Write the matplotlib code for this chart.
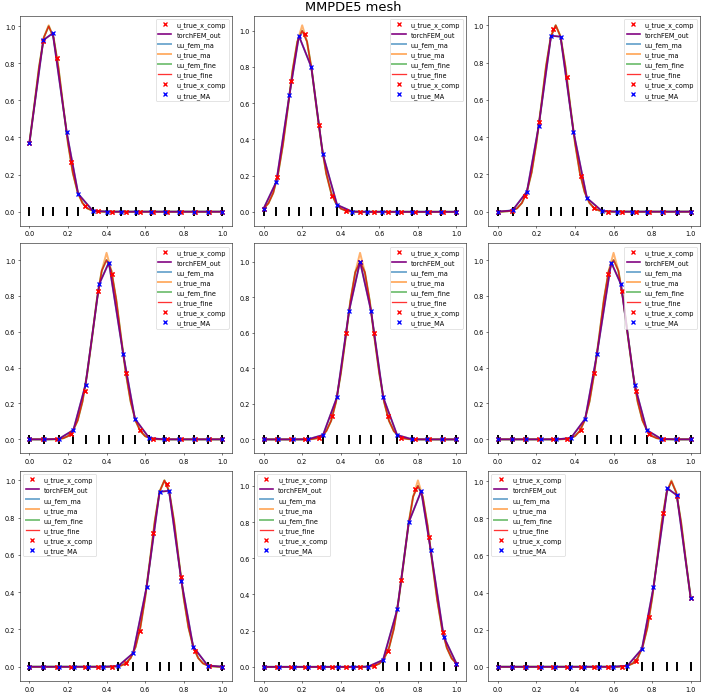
import matplotlib
matplotlib.use('Agg')
import matplotlib.pyplot as plt

# uniform computational grid (red crosses)
x_comp = [0.0, 0.0714, 0.1429, 0.2143, 0.2857, 0.3571, 0.4286, 0.5,
          0.5714, 0.6429, 0.7143, 0.7857, 0.8571, 0.9286, 1.0]
# fine grid for the reference solution, step 0.025
x_fine = [0.0, 0.025, 0.05, 0.075, 0.1, 0.125, 0.15, 0.175, 0.2, 0.225,
          0.25, 0.275, 0.3, 0.325, 0.35, 0.375, 0.4, 0.425, 0.45, 0.475,
          0.5, 0.525, 0.55, 0.575, 0.6, 0.625, 0.65, 0.675, 0.7, 0.725,
          0.75, 0.775, 0.8, 0.825, 0.85, 0.875, 0.9, 0.925, 0.95, 0.975, 1.0]

# MA meshes, one per subplot
mesh = [
    [0, 0.072, 0.121, 0.193, 0.253, 0.328, 0.403, 0.477, 0.552, 0.628, 0.702, 0.776, 0.852, 0.926, 1.0],
    [0, 0.066, 0.134, 0.183, 0.247, 0.307, 0.381, 0.459, 0.536, 0.614, 0.690, 0.769, 0.845, 0.922, 1.0],
    [0, 0.076, 0.151, 0.212, 0.276, 0.325, 0.392, 0.462, 0.540, 0.616, 0.694, 0.771, 0.849, 0.927, 1.0],
    [0, 0.076, 0.152, 0.228, 0.291, 0.362, 0.412, 0.486, 0.547, 0.621, 0.697, 0.774, 0.852, 0.926, 1.0],
    [0, 0.075, 0.153, 0.230, 0.308, 0.380, 0.443, 0.500, 0.557, 0.620, 0.692, 0.770, 0.847, 0.925, 1.0],
    [0, 0.074, 0.148, 0.226, 0.303, 0.379, 0.453, 0.514, 0.588, 0.638, 0.709, 0.772, 0.848, 0.924, 1.0],
    [0, 0.073, 0.151, 0.229, 0.306, 0.384, 0.460, 0.538, 0.608, 0.675, 0.724, 0.788, 0.849, 0.924, 1.0],
    [0, 0.078, 0.155, 0.231, 0.310, 0.386, 0.464, 0.541, 0.619, 0.693, 0.753, 0.817, 0.866, 0.934, 1.0],
    [0, 0.074, 0.148, 0.224, 0.298, 0.372, 0.448, 0.523, 0.597, 0.672, 0.747, 0.807, 0.879, 0.928, 1.0],
]

# u_true_MA / torchFEM_out / uu_fem_ma on the MA mesh
u_ma = [
    [0.37, 0.925, 0.962, 0.43, 0.096, 0.0055, 0, 0, 0, 0, 0, 0, 0, 0, 0],
    [0.018, 0.166, 0.647, 0.971, 0.80, 0.318, 0.038, 0.0012, 0, 0, 0, 0, 0, 0, 0],
    [0.0001, 0.0066, 0.108, 0.46, 0.944, 0.939, 0.43, 0.073, 0.0031, 0, 0, 0, 0, 0, 0],
    [0, 0, 0.0021, 0.052, 0.305, 0.866, 0.986, 0.477, 0.115, 0.0076, 0.0001, 0, 0, 0, 0],
    [0, 0, 0, 0.0007, 0.025, 0.237, 0.723, 1.0, 0.723, 0.237, 0.025, 0.0007, 0, 0, 0],
    [0, 0, 0, 0, 0.0001, 0.0076, 0.115, 0.477, 0.986, 0.866, 0.305, 0.052, 0.0021, 0, 0],
    [0, 0, 0, 0, 0, 0, 0.0031, 0.073, 0.43, 0.939, 0.944, 0.46, 0.108, 0.0066, 0.0001],
    [0, 0, 0, 0, 0, 0, 0, 0.0012, 0.038, 0.318, 0.80, 0.971, 0.647, 0.166, 0.018],
    [0, 0, 0, 0, 0, 0, 0, 0, 0, 0.0055, 0.096, 0.43, 0.962, 0.925, 0.37],
]

# u_true_x_comp on the uniform grid
u_comp = [
    [0.37, 0.92, 0.83, 0.27, 0.032, 0.0013, 0, 0, 0, 0, 0, 0, 0, 0, 0],
    [0.018, 0.19, 0.72, 0.98, 0.48, 0.085, 0.0054, 0.0001, 0, 0, 0, 0, 0, 0, 0],
    [0.0001, 0.0054, 0.085, 0.48, 0.98, 0.72, 0.19, 0.018, 0.0006, 0, 0, 0, 0, 0, 0],
    [0, 0, 0.0013, 0.032, 0.27, 0.83, 0.92, 0.37, 0.053, 0.0027, 0, 0, 0, 0, 0],
    [0, 0, 0, 0.0003, 0.010, 0.13, 0.60, 1.0, 0.60, 0.13, 0.010, 0.0003, 0, 0, 0],
    [0, 0, 0, 0, 0, 0.0027, 0.053, 0.37, 0.92, 0.83, 0.27, 0.032, 0.0013, 0, 0],
    [0, 0, 0, 0, 0, 0, 0.0006, 0.018, 0.19, 0.72, 0.98, 0.48, 0.085, 0.0054, 0.0001],
    [0, 0, 0, 0, 0, 0, 0, 0.0001, 0.0054, 0.085, 0.48, 0.98, 0.72, 0.19, 0.018],
    [0, 0, 0, 0, 0, 0, 0, 0, 0, 0.0013, 0.032, 0.27, 0.83, 0.92, 0.37],
]

# u_true_fine / uu_fem_fine on the fine grid
u_fine = [
    [0.37, 0.57, 0.78, 0.94, 1.0, 0.94, 0.78, 0.57, 0.37, 0.21, 0.105, 0.047, 0.018, 0.0063, 0.002, 0.0005] + [0] * 25,
    [0.018, 0.047, 0.105, 0.21, 0.37, 0.57, 0.78, 0.94, 1.0, 0.94, 0.78, 0.57, 0.37, 0.21, 0.105, 0.047,
     0.018, 0.0063, 0.002, 0.0005] + [0] * 21,
    [0, 0.0005, 0.002, 0.0063, 0.018, 0.047, 0.105, 0.21, 0.37, 0.57, 0.78, 0.94, 1.0, 0.94, 0.78, 0.57,
     0.37, 0.21, 0.105, 0.047, 0.018, 0.0063, 0.002, 0.0005] + [0] * 17,
    [0] * 5 + [0.0005, 0.002, 0.0063, 0.018, 0.047, 0.105, 0.21, 0.37, 0.57, 0.78, 0.94, 1.0, 0.94, 0.78,
               0.57, 0.37, 0.21, 0.105, 0.047, 0.018, 0.0063, 0.002, 0.0005] + [0] * 13,
    [0] * 9 + [0.0005, 0.002, 0.0063, 0.018, 0.047, 0.105, 0.21, 0.37, 0.57, 0.78, 0.94, 1.0, 0.94, 0.78,
               0.57, 0.37, 0.21, 0.105, 0.047, 0.018, 0.0063, 0.002, 0.0005] + [0] * 9,
    [0] * 13 + [0.0005, 0.002, 0.0063, 0.018, 0.047, 0.105, 0.21, 0.37, 0.57, 0.78, 0.94, 1.0, 0.94, 0.78,
                0.57, 0.37, 0.21, 0.105, 0.047, 0.018, 0.0063, 0.002, 0.0005] + [0] * 5,
    [0] * 17 + [0.0005, 0.002, 0.0063, 0.018, 0.047, 0.105, 0.21, 0.37, 0.57, 0.78, 0.94, 1.0, 0.94, 0.78,
                0.57, 0.37, 0.21, 0.105, 0.047, 0.018, 0.0063, 0.002, 0.0005] + [0] * 1,
    [0] * 21 + [0.0005, 0.002, 0.0063, 0.018, 0.047, 0.105, 0.21, 0.37, 0.57, 0.78, 0.94, 1.0, 0.94, 0.78,
                0.57, 0.37, 0.21, 0.105, 0.047, 0.018],
    [0] * 25 + [0.0005, 0.002, 0.0063, 0.018, 0.047, 0.105, 0.21, 0.37, 0.57, 0.78, 0.94, 1.0, 0.94, 0.78,
                0.57, 0.37],
]

# u_true_ma overshoots a little at the peak
peak_idx = [4, 8, 12, 16, 20, 24, 28, 32, 36]
ma_peak = [1.005, 1.03, 1.0, 1.04, 1.05, 1.04, 1.0, 1.03, 1.005]

fig = plt.figure(figsize=(15, 14.83))
fig.suptitle('MMPDE5 mesh', fontsize=20, y=0.998)

for i in range(9):
    u_true_ma = list(u_fine[i])
    u_true_ma[peak_idx[i]] = ma_peak[i]
    ax = plt.subplot(3, 3, i + 1)
    ax.plot(x_comp, u_comp[i], 'x', color='red', mew=2, zorder=5, label='u_true_x_comp')
    ax.plot(mesh[i], u_ma[i], color='purple', lw=2.5, zorder=4, label='torchFEM_out')
    ax.plot(mesh[i], u_ma[i], color='tab:blue', lw=3, alpha=0.6, label='uu_fem_ma')
    ax.plot(x_fine, u_true_ma, color='tab:orange', lw=3, alpha=0.6, label='u_true_ma')
    ax.plot(x_fine, u_fine[i], color='tab:green', lw=3, alpha=0.6, label='uu_fem_fine')
    ax.plot(x_fine, u_fine[i], color='red', lw=2, alpha=0.8, label='u_true_fine')
    ax.plot(x_comp, u_comp[i], 'x', color='red', mew=2, zorder=5, label='u_true_x_comp')
    ax.plot(mesh[i], u_ma[i], 'x', color='blue', mew=2, zorder=6, label='u_true_MA')
    # mesh nodes
    ax.vlines(mesh[i], -0.025, 0.025, color='black', lw=3, zorder=3)
    if i < 6:
        ax.legend(loc='upper right')
    else:
        ax.legend(loc='upper left')

plt.subplots_adjust(left=0.028, right=0.992, top=0.976, bottom=0.023,
                    wspace=0.104, hspace=0.083)
plt.savefig('out.png', dpi=706 / 15)
